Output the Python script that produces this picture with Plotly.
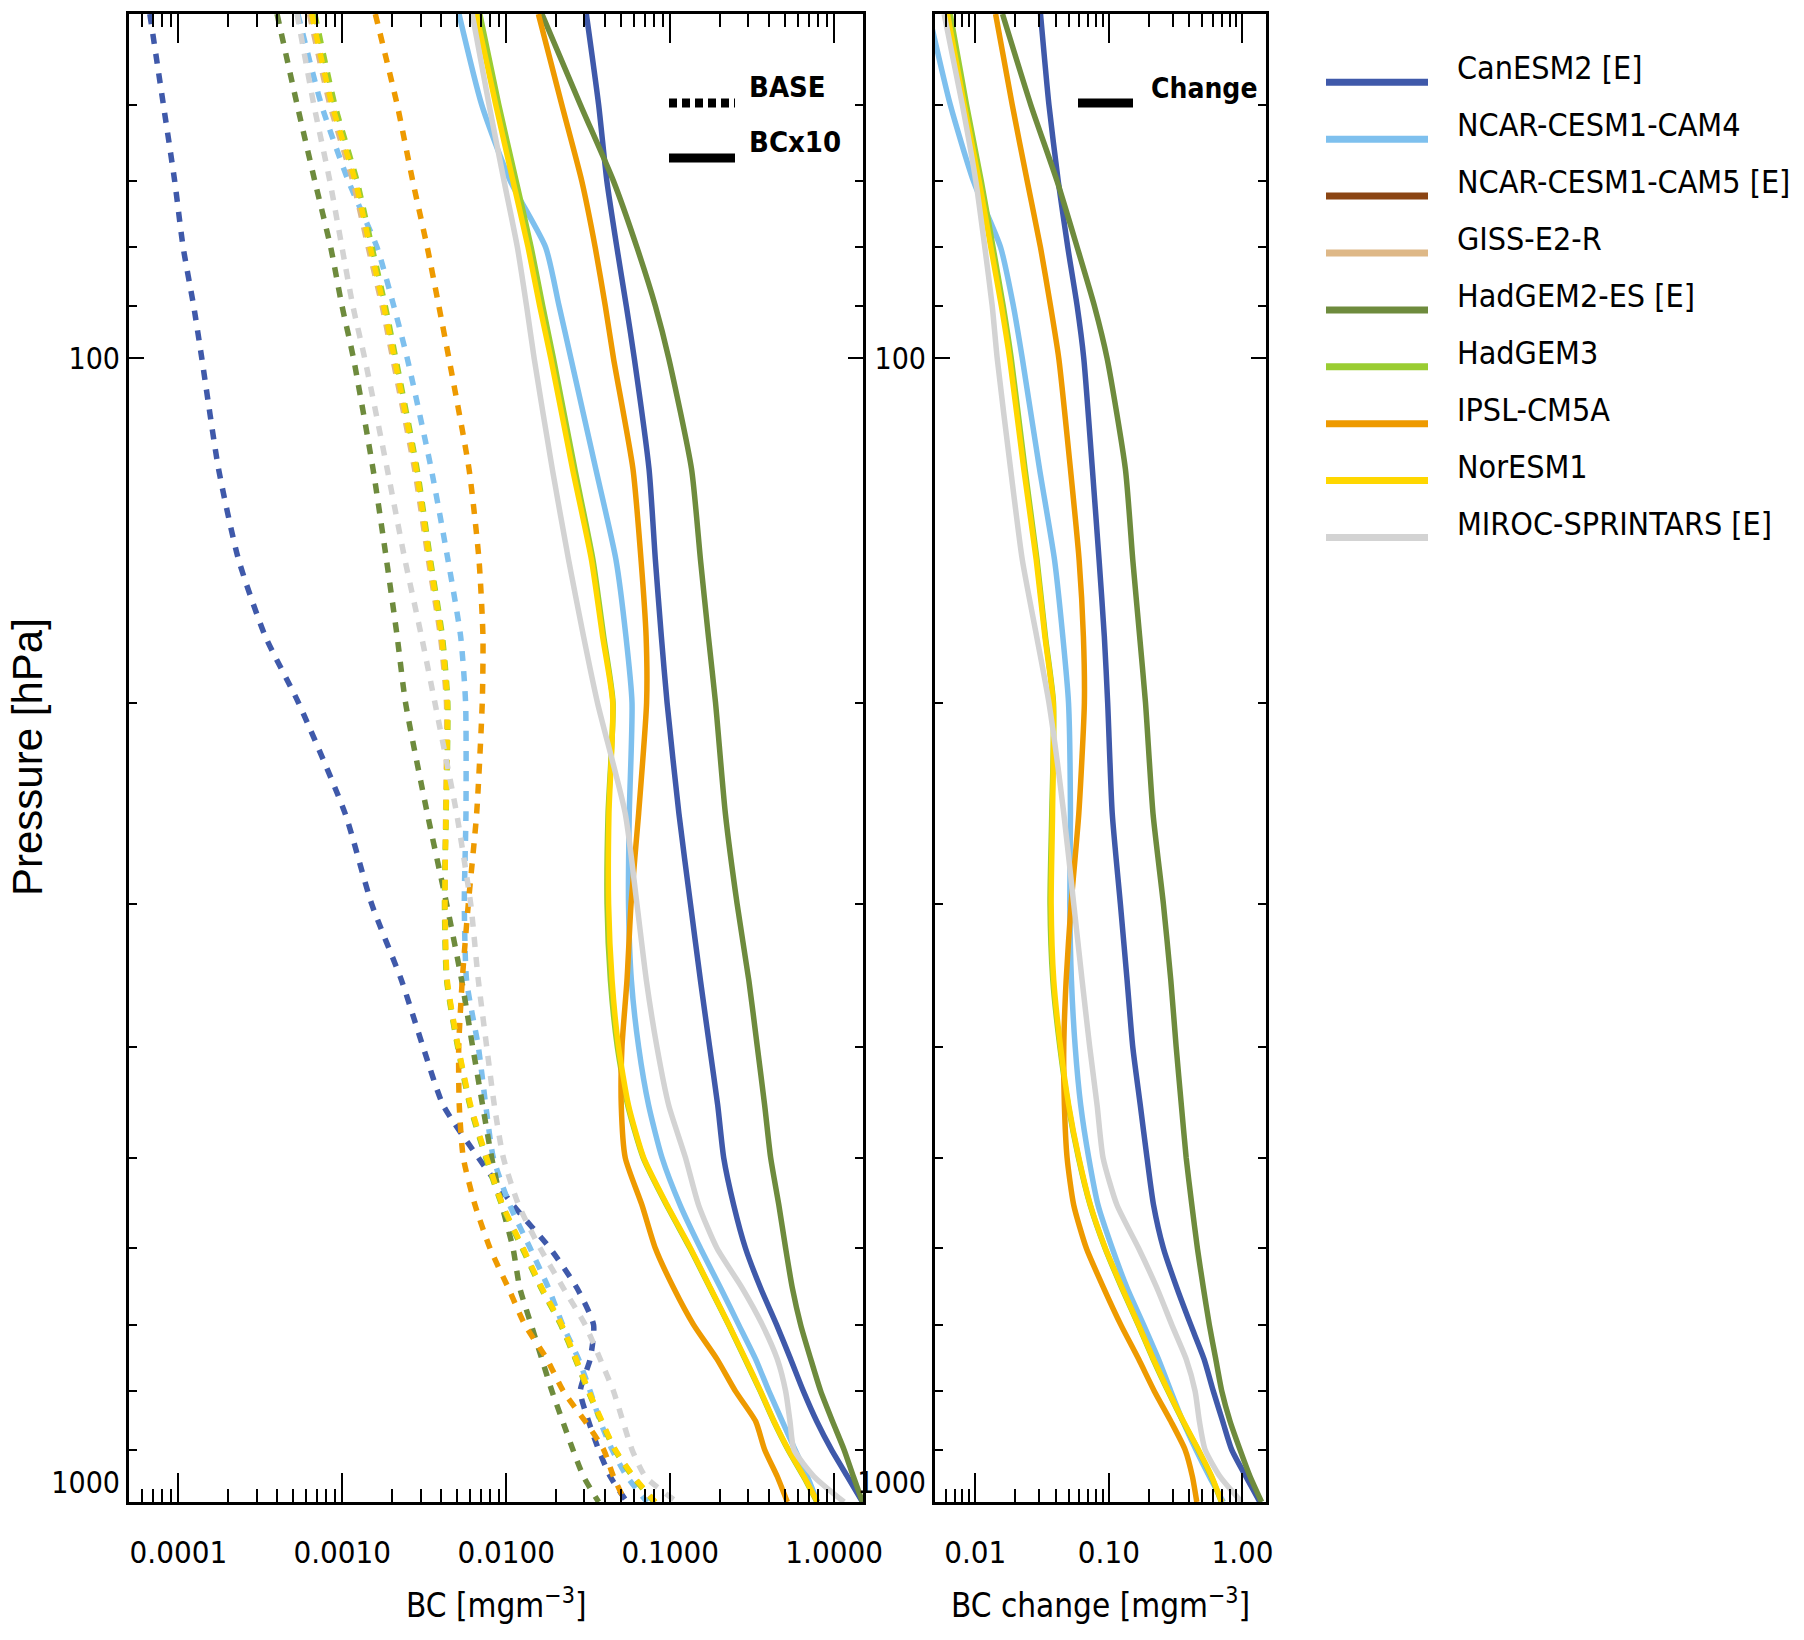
import math
import plotly.graph_objects as go

# ---------------- data ----------------
P = [50, 60, 70, 80, 90, 100, 125, 150, 175, 200, 250, 300, 350, 400, 450,
     500, 550, 600, 650, 700, 750, 800, 850, 900, 950, 1000]

models = ["CanESM2 [E]", "NCAR-CESM1-CAM4", "NCAR-CESM1-CAM5 [E]", "GISS-E2-R",
          "HadGEM2-ES [E]", "HadGEM3", "IPSL-CM5A", "NorESM1", "MIROC-SPRINTARS [E]"]
colors = ["#3F59AA", "#7EC0EE", "#8B4513", "#DEB887", "#6E8B3D",
          "#9ACD32", "#EE9A00", "#FFD700", "#D3D3D3"]

# BASE (dashed), BC in mg m-3
base_canesm2 = [6.7e-5, 8.1e-5, 9.5e-5, 1.07e-4, 1.24e-4, 1.39e-4, 1.76e-4, 2.33e-4, 3.39e-4, 5.4e-4,
                1.04e-3, 1.51e-3, 2.3e-3, 3.11e-3, 4.13e-3, 6.76e-3, 0.0110, 0.0185, 0.0270, 0.0341,
                0.0325, 0.0283, 0.0318, 0.0366, 0.0431, 0.0545]
base_cam4 = [5.36e-4, 7.45e-4, 1.09e-3, 1.63e-3, 2.06e-3, 2.49e-3, 3.49e-3, 4.41e-3, 5.27e-3, 5.65e-3,
             5.68e-3, 5.55e-3, 5.73e-3, 6.76e-3, 7.5e-3, 8.34e-3, 0.0105, 0.0140, 0.0181, 0.0221,
             0.0276, 0.0325, 0.0374, 0.0442, 0.0545, 0.0722]
base_giss = [6.3e-4, 8.4e-4, 1.16e-3, 1.44e-3, 1.75e-3, 2.03e-3, 2.76e-3, 3.35e-3, 3.97e-3, 4.32e-3,
             4.27e-3, 4.22e-3, 4.35e-3, 5.08e-3, 6.03e-3, 7.55e-3, 9.45e-3, 0.0126, 0.0164, 0.0216,
             0.0265, 0.0317, 0.0381, 0.0460, 0.0594, 0.0805]
base_hadgem2 = [4.0e-4, 5.3e-4, 6.8e-4, 8.5e-4, 9.96e-4, 1.17e-3, 1.54e-3, 1.86e-3, 2.16e-3, 2.43e-3,
                3.3e-3, 4.33e-3, 5.35e-3, 6.24e-3, 7.18e-3, 8.15e-3, 9.4e-3, 0.0110, 0.0121, 0.0142,
                0.0165, 0.0190, 0.0221, 0.0255, 0.0296, 0.0366]
base_hadgem3 = [6.8e-4, 9.0e-4, 1.23e-3, 1.52e-3, 1.83e-3, 2.12e-3, 2.86e-3, 3.45e-3, 4.08e-3, 4.4e-3,
                4.3e-3, 4.2e-3, 4.33e-3, 5.05e-3, 6.0e-3, 7.5e-3, 9.4e-3, 0.0125, 0.0163, 0.0215,
                0.0264, 0.0316, 0.0380, 0.0458, 0.0590, 0.0800]
base_ipsl = [1.59e-3, 2.16e-3, 2.69e-3, 3.3e-3, 3.88e-3, 4.47e-3, 5.93e-3, 6.82e-3, 7.21e-3, 7.14e-3,
             6.6e-3, 5.87e-3, 5.39e-3, 5.13e-3, 5.17e-3, 5.47e-3, 6.45e-3, 7.96e-3, 0.0103, 0.0130,
             0.0177, 0.0223, 0.0303, 0.0393, 0.0451, 0.0532]
base_noresm = [6.5e-4, 8.65e-4, 1.2e-3, 1.48e-3, 1.79e-3, 2.08e-3, 2.82e-3, 3.41e-3, 4.03e-3, 4.37e-3,
               4.29e-3, 4.23e-3, 4.37e-3, 5.1e-3, 6.07e-3, 7.6e-3, 9.5e-3, 0.0127, 0.0165, 0.0218,
               0.0267, 0.0319, 0.0384, 0.0462, 0.0598, 0.0812]
base_miroc = [5.3e-4, 6.7e-4, 8.4e-4, 9.96e-4, 1.16e-3, 1.37e-3, 1.88e-3, 2.41e-3, 3.04e-3, 3.67e-3,
              4.98e-3, 6.07e-3, 6.76e-3, 7.6e-3, 8.46e-3, 9.6e-3, 0.0119, 0.0161, 0.0223, 0.0303,
              0.0374, 0.0451, 0.0515, 0.0585, 0.0705, 0.110]

# BCx10 (solid)
bcx10_canesm2 = [0.0308, 0.0366, 0.0411, 0.0473, 0.054, 0.0604, 0.0743, 0.0812, 0.0883, 0.0957,
                 0.113, 0.133, 0.153, 0.174, 0.195, 0.212, 0.244, 0.288, 0.356, 0.446,
                 0.543, 0.649, 0.783, 0.963, 1.205, 1.49]
bcx10_cam4 = [5.15e-3, 7.08e-3, 0.0106, 0.0174, 0.021, 0.0248, 0.0352, 0.0467, 0.0537, 0.0585,
              0.0563, 0.0557, 0.058, 0.0642, 0.0739, 0.0892, 0.115, 0.153, 0.203, 0.262,
              0.332, 0.4, 0.483, 0.577, 0.687, 0.791]
bcx10_hadgem2 = [0.0165, 0.0283, 0.0451, 0.0627, 0.0812, 0.098, 0.135, 0.153, 0.171, 0.189,
                 0.217, 0.256, 0.302, 0.34, 0.377, 0.41, 0.46, 0.506, 0.556, 0.625,
                 0.72, 0.828, 0.977, 1.15, 1.31, 1.49]
bcx10_hadgem3 = [6.9e-3, 9.0e-3, 0.0115, 0.0142, 0.0167, 0.0194, 0.0262, 0.0338, 0.0393, 0.0448,
                 0.0418, 0.0412, 0.0432, 0.0476, 0.0551, 0.0684, 0.0950, 0.132, 0.175, 0.227,
                 0.286, 0.354, 0.428, 0.523, 0.650, 0.785]
bcx10_ipsl = [0.0157, 0.0218, 0.0289, 0.0349, 0.0402, 0.0451, 0.0593, 0.0664, 0.0713, 0.0718,
              0.0642, 0.0577, 0.0545, 0.0508, 0.0503, 0.0532, 0.0673, 0.0812, 0.105, 0.139,
              0.193, 0.25, 0.332, 0.377, 0.45, 0.518]
bcx10_noresm = [6.56e-3, 8.63e-3, 0.011, 0.0136, 0.016, 0.0187, 0.0254, 0.0331, 0.0387, 0.0446,
                0.0423, 0.0421, 0.0442, 0.0484, 0.0557, 0.0689, 0.0957, 0.133, 0.176, 0.228,
                0.288, 0.356, 0.43, 0.526, 0.655, 0.791]
bcx10_miroc = [6.2e-3, 7.85e-3, 9.7e-3, 0.0117, 0.0133, 0.0148, 0.0191, 0.024, 0.0296, 0.036,
               0.0532, 0.0627, 0.0716, 0.083, 0.098, 0.124, 0.149, 0.193, 0.275, 0.365,
               0.45, 0.506, 0.538, 0.569, 0.754, 1.15]

# Change (right panel)
chg_canesm2 = [0.0308, 0.0356, 0.0418, 0.0493, 0.0579, 0.0649, 0.0753, 0.0845, 0.0925, 0.098,
               0.106, 0.122, 0.137, 0.151, 0.172, 0.193, 0.216, 0.256, 0.323, 0.41,
               0.516, 0.605, 0.711, 0.83, 1.06, 1.35]
chg_cam4 = [4.5e-3, 6.5e-3, 9.7e-3, 0.0155, 0.0193, 0.0225, 0.0303, 0.0392, 0.0452, 0.0499,
            0.0516, 0.051, 0.0525, 0.056, 0.0616, 0.0707, 0.083, 0.106, 0.137, 0.182,
            0.235, 0.291, 0.358, 0.448, 0.565, 0.719]
chg_hadgem2 = [0.016, 0.026, 0.041, 0.058, 0.078, 0.097, 0.133, 0.151, 0.17, 0.188,
               0.214, 0.256, 0.291, 0.319, 0.349, 0.379, 0.418, 0.46, 0.51, 0.565,
               0.631, 0.7, 0.807, 0.958, 1.14, 1.39]
chg_hadgem3 = [6.5e-3, 8.6e-3, 0.0111, 0.0136, 0.0162, 0.0186, 0.0236, 0.029, 0.0335, 0.0385,
               0.0374, 0.0363, 0.0381, 0.0430, 0.0497, 0.0592, 0.0724, 0.0937, 0.125, 0.166,
               0.214, 0.277, 0.358, 0.465, 0.585, 0.695]
chg_ipsl = [0.0142, 0.0189, 0.0245, 0.0308, 0.0366, 0.0422, 0.0516, 0.0599, 0.0645, 0.0656,
            0.0596, 0.0522, 0.0479, 0.046, 0.0465, 0.0487, 0.0546, 0.0679, 0.0915, 0.123,
            0.167, 0.219, 0.291, 0.372, 0.422, 0.455]
chg_noresm = [6.2e-3, 8.26e-3, 0.0107, 0.0131, 0.0157, 0.0181, 0.0231, 0.0286, 0.0332, 0.0383,
              0.0379, 0.037, 0.0387, 0.0435, 0.0501, 0.0596, 0.0728, 0.0942, 0.126, 0.167,
              0.216, 0.279, 0.361, 0.468, 0.589, 0.7]
chg_miroc = [5.85e-3, 8.0e-3, 0.0101, 0.0118, 0.0134, 0.0146, 0.0184, 0.0225, 0.0288, 0.0356,
             0.046, 0.0546, 0.0631, 0.0719, 0.0817, 0.0905, 0.115, 0.167, 0.229, 0.296,
             0.379, 0.442, 0.476, 0.525, 0.679, 0.986]

left_tickvals = [1e-4, 1e-3, 1e-2, 1e-1, 1.0]
left_ticktext = ["0.0001", "0.0010", "0.0100", "0.1000", "1.0000"]
right_tickvals = [0.01, 0.1, 1.0]
right_ticktext = ["0.01", "0.10", "1.00"]
p_tickvals = [100, 1000]
p_ticktext = ["100", "1000<br> "]
p_minor = [60, 70, 80, 90, 200, 300, 400, 500, 600, 700, 800, 900]

base = [base_canesm2, base_cam4, None, base_giss, base_hadgem2, base_hadgem3, base_ipsl, base_noresm, base_miroc]
bcx10 = [bcx10_canesm2, bcx10_cam4, None, None, bcx10_hadgem2, bcx10_hadgem3, bcx10_ipsl, bcx10_noresm, bcx10_miroc]
chg = [chg_canesm2, chg_cam4, None, None, chg_hadgem2, chg_hadgem3, chg_ipsl, chg_noresm, chg_miroc]

# ---------------- figure ----------------
OFF = 8                      # page body margin of the html document
W, H = 1804 - 2 * OFF, 1640 - 2 * OFF
NARROW = "Liberation Sans Narrow, DejaVu Sans Condensed, Arial Narrow, sans-serif"
LW = 5.5

fig = go.Figure()
for i, m in enumerate(models):
    if base[i] is not None:
        fig.add_trace(go.Scatter(x=base[i], y=P, mode="lines", name=m, showlegend=False,
                                 line=dict(color=colors[i], width=LW, dash="10px,10px",
                                           shape="spline", smoothing=0.6),
                                 xaxis="x", yaxis="y"))
for i, m in enumerate(models):
    if bcx10[i] is not None:
        fig.add_trace(go.Scatter(x=bcx10[i], y=P, mode="lines", name=m, showlegend=False,
                                 line=dict(color=colors[i], width=LW, shape="spline", smoothing=0.6),
                                 xaxis="x", yaxis="y"))
for i, m in enumerate(models):
    if chg[i] is not None:
        fig.add_trace(go.Scatter(x=chg[i], y=P, mode="lines", name=m, showlegend=False,
                                 line=dict(color=colors[i], width=LW, shape="spline", smoothing=0.6),
                                 xaxis="x2", yaxis="y2"))


def px(x):
    return (x - OFF) / W


def py(y):
    return 1 - (y - OFF) / H


def minor_vals(lo_exp, hi_exp, lo, hi):
    out = []
    for e in range(lo_exp, hi_exp + 1):
        for d in range(2, 10):
            v = d * 10 ** e
            if lo < v < hi:
                out.append(v)
    return out


axis_common = dict(type="log", ticks="inside", tickcolor="black", tickwidth=2,
                   showline=True, linecolor="black", linewidth=3, mirror="allticks",
                   showgrid=False, zeroline=False, automargin=False)
XTICKFONT = dict(family=NARROW, size=31, color="black")
YTICKFONT = dict(family=NARROW, size=30, color="black")

xdom_l = [px(129), px(863)]
xdom_r = [px(935), px(1266)]
ydom = [py(1502), py(14)]

fig.update_layout(
    width=W, height=H, margin=dict(l=0, r=0, t=0, b=0, autoexpand=False),
    paper_bgcolor="white", plot_bgcolor="white", showlegend=False,
    xaxis=dict(domain=xdom_l, anchor="y", range=[math.log10(5e-5), math.log10(1.5)],
               tickmode="array", tickvals=left_tickvals, ticktext=left_ticktext, ticklen=29,
               tickfont=XTICKFONT, ticklabelstandoff=21,
               minor=dict(tickmode="array", tickvals=minor_vals(-5, 0, 5e-5, 1.5), ticks="inside",
                          ticklen=13, tickwidth=1.5, tickcolor="black", showgrid=False),
               **axis_common),
    xaxis2=dict(domain=xdom_r, anchor="y2", range=[math.log10(5e-3), math.log10(1.5)],
                tickmode="array", tickvals=right_tickvals, ticktext=right_ticktext, ticklen=29,
                tickfont=XTICKFONT, ticklabelstandoff=21,
                minor=dict(tickmode="array", tickvals=minor_vals(-3, 0, 5e-3, 1.5), ticks="inside",
                           ticklen=13, tickwidth=1.5, tickcolor="black", showgrid=False),
                **axis_common),
    yaxis=dict(domain=ydom, anchor="x", range=[3, math.log10(50)],
               tickmode="array", tickvals=p_tickvals, ticktext=p_ticktext, ticklen=15,
               tickfont=YTICKFONT, ticklabelstandoff=0,
               minor=dict(tickmode="array", tickvals=p_minor,
                          ticks="inside", ticklen=8, tickwidth=2, tickcolor="black", showgrid=False),
               **axis_common),
    yaxis2=dict(domain=ydom, anchor="x2", range=[3, math.log10(50)],
                tickmode="array", tickvals=p_tickvals, ticktext=p_ticktext, ticklen=15,
                tickfont=YTICKFONT, ticklabelstandoff=0,
                minor=dict(tickmode="array", tickvals=p_minor,
                           ticks="inside", ticklen=8, tickwidth=2, tickcolor="black", showgrid=False),
                **axis_common),
)

annotations = []
shapes = []

# axis titles
annotations.append(dict(text="BC [mgm<sup>\u22123</sup>]", x=px(496), y=py(1627), xref="paper", yref="paper",
                        xanchor="center", yanchor="bottom", showarrow=False,
                        font=dict(family=NARROW, size=33, color="black")))
annotations.append(dict(text="BC change [mgm<sup>\u22123</sup>]", x=px(1100), y=py(1627), xref="paper", yref="paper",
                        xanchor="center", yanchor="bottom", showarrow=False,
                        font=dict(family=NARROW, size=33, color="black")))
annotations.append(dict(text="Pressure [hPa]", x=px(27), y=py(757), xref="paper", yref="paper",
                        xanchor="center", yanchor="middle", showarrow=False, textangle=-90,
                        font=dict(family="Liberation Sans, Arial, sans-serif", size=42, color="black")))

# in-panel line-style keys
shapes.append(dict(type="line", xref="paper", yref="paper", x0=px(669), x1=px(735), y0=py(103), y1=py(103),
                   line=dict(color="black", width=9, dash="8px,5px")))
shapes.append(dict(type="line", xref="paper", yref="paper", x0=px(669), x1=px(735), y0=py(158), y1=py(158),
                   line=dict(color="black", width=9)))
shapes.append(dict(type="line", xref="paper", yref="paper", x0=px(1078), x1=px(1133), y0=py(103), y1=py(103),
                   line=dict(color="black", width=9)))
for txt, xx, yy, fs in [("BASE", 747, 87, 29), ("BCx10", 747, 142, 29), ("Change", 1149, 89, 28)]:
    annotations.append(dict(text="<b>%s</b>" % txt, x=px(xx), y=py(yy), xref="paper", yref="paper",
                            xanchor="left", yanchor="middle", showarrow=False,
                            font=dict(family=NARROW, size=fs, color="black")))

# model legend
for i, m in enumerate(models):
    yl = 82.3 + 56.9 * i
    shapes.append(dict(type="line", xref="paper", yref="paper", x0=px(1326), x1=px(1428),
                       y0=py(yl), y1=py(yl), line=dict(color=colors[i], width=7)))
    annotations.append(dict(text=m, x=px(1455), y=py(yl - 14), xref="paper", yref="paper",
                            xanchor="left", yanchor="middle", showarrow=False,
                            font=dict(family=NARROW, size=32, color="black")))

fig.update_layout(annotations=annotations, shapes=shapes)
fig.write_html("out.html")
